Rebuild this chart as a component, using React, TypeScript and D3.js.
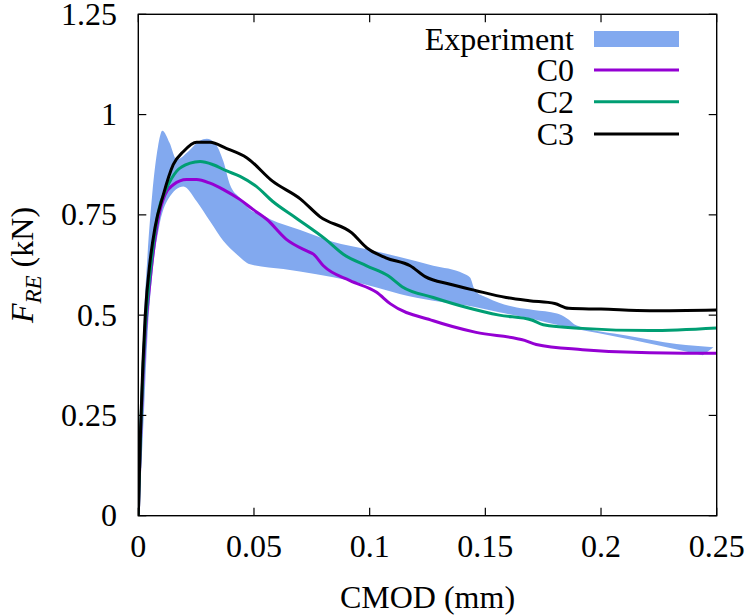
import React from "react";
import * as d3 from "d3";

const xTicks = [0, 0.05, 0.1, 0.15, 0.2, 0.25];
const xTickLabels = ["0", "0.05", "0.1", "0.15", "0.2", "0.25"];
const yTicks = [0, 0.25, 0.5, 0.75, 1, 1.25];
const yTickLabels = ["0", "0.25", "0.5", "0.75", "1", "1.25"];

const expUpperX = [0, 0.001, 0.0025, 0.004, 0.006, 0.0085, 0.0104, 0.0135, 0.0166, 0.0216, 0.0265, 0.0296, 0.033, 0.0368, 0.0396, 0.044, 0.0483, 0.0526, 0.057, 0.07, 0.084, 0.0987, 0.113, 0.1275, 0.1405, 0.1434, 0.1456, 0.1506, 0.1636, 0.1708, 0.181, 0.185, 0.1895, 0.211, 0.2327, 0.2486];
const expUpperY = [0, 0.25, 0.5, 0.65, 0.8, 0.92, 0.96, 0.93, 0.888, 0.908, 0.935, 0.94, 0.93, 0.883, 0.826, 0.792, 0.763, 0.752, 0.739, 0.712, 0.683, 0.664, 0.645, 0.623, 0.604, 0.594, 0.561, 0.544, 0.519, 0.513, 0.504, 0.493, 0.474, 0.449, 0.428, 0.42];
const expLowerX = [0, 0.002, 0.004, 0.006, 0.009, 0.013, 0.0195, 0.0252, 0.031, 0.0368, 0.0425, 0.0483, 0.0627, 0.077, 0.0915, 0.103, 0.113, 0.1275, 0.142, 0.156, 0.171, 0.1823, 0.204, 0.2255, 0.244];
const expLowerY = [0, 0.2, 0.45, 0.6, 0.72, 0.79, 0.821, 0.784, 0.734, 0.685, 0.652, 0.627, 0.615, 0.602, 0.586, 0.569, 0.553, 0.536, 0.524, 0.507, 0.49, 0.474, 0.449, 0.424, 0.4];

const c0X = [0, 0.001, 0.002, 0.003, 0.005, 0.0087, 0.0115, 0.0151, 0.0209, 0.0252, 0.031, 0.0368, 0.044, 0.0497, 0.0555, 0.064, 0.0728, 0.0757, 0.08, 0.0915, 0.103, 0.109, 0.1275, 0.146, 0.167, 0.172, 0.192, 0.221, 0.25];
const c0Y = [0, 0.2, 0.34, 0.45, 0.58, 0.743, 0.8, 0.825, 0.838, 0.838, 0.829, 0.813, 0.788, 0.763, 0.739, 0.689, 0.66, 0.652, 0.623, 0.586, 0.557, 0.528, 0.486, 0.457, 0.437, 0.427, 0.414, 0.406, 0.405];

const c2X = [0, 0.001, 0.002, 0.003, 0.005, 0.0087, 0.0123, 0.0166, 0.0224, 0.0267, 0.0324, 0.038, 0.044, 0.051, 0.058, 0.068, 0.081, 0.0886, 0.0987, 0.108, 0.114, 0.1275, 0.142, 0.156, 0.17, 0.175, 0.192, 0.221, 0.25];
const c2Y = [0, 0.21, 0.36, 0.47, 0.6, 0.759, 0.817, 0.859, 0.879, 0.883, 0.875, 0.86, 0.846, 0.821, 0.784, 0.743, 0.689, 0.652, 0.623, 0.598, 0.571, 0.544, 0.519, 0.5, 0.488, 0.476, 0.467, 0.4615, 0.468];

const c3X = [0, 0.001, 0.002, 0.003, 0.0051, 0.0072, 0.0108, 0.0151, 0.0195, 0.0252, 0.031, 0.038, 0.047, 0.058, 0.07, 0.0786, 0.0923, 0.0987, 0.107, 0.1175, 0.124, 0.1348, 0.146, 0.159, 0.169, 0.18, 0.186, 0.2, 0.221, 0.25];
const c3Y = [0, 0.22, 0.38, 0.5, 0.635, 0.718, 0.8, 0.875, 0.908, 0.931, 0.931, 0.916, 0.892, 0.834, 0.79, 0.745, 0.705, 0.668, 0.643, 0.623, 0.596, 0.577, 0.561, 0.544, 0.536, 0.529, 0.517, 0.515, 0.511, 0.513];

const seriesNames = ["Experiment", "C0", "C2", "C3"];
const seriesColors = ["#82a9ef", "#9400d3", "#009e73", "#000000"];

const W = 749;
const H = 616;
const left = 138.3;
const right = 716.7;
const top = 14.3;
const bottom = 515.7;
const FS = 32;
const FAM = '"Liberation Serif", "Tinos", "Nimbus Roman", serif';

export default function App() {
  const x = d3.scaleLinear().domain([0, 0.25]).range([left, right]);
  const y = d3.scaleLinear().domain([0, 1.25]).range([bottom, top]);

  const zip = (xs: number[], ys: number[]) => xs.map((v, i) => [v, ys[i]] as [number, number]);
  const line = d3
    .line<[number, number]>()
    .x((d) => x(d[0]))
    .y((d) => y(d[1]))
    .curve(d3.curveMonotoneX);

  const upper = zip(expUpperX, expUpperY);
  const lower = zip(expLowerX, expLowerY).reverse();
  const bandPath = (line(upper) || "") + "L" + (line(lower) || "").slice(1) + "Z";

  const lines = [
    { d: zip(c0X, c0Y), c: seriesColors[1] },
    { d: zip(c2X, c2Y), c: seriesColors[2] },
    { d: zip(c3X, c3Y), c: seriesColors[3] },
  ];

  const tickLen = 8;
  const legendRows = [39, 70, 101.7, 134];

  return (
    <div style={{ position: "absolute", left: 0, top: 0, width: W, height: H }}>
      <svg width={W} height={H} style={{ display: "block", fontFamily: FAM }}>
        <rect x={0} y={0} width={W} height={H} fill="#fff" />
        <defs>
          <clipPath id="plotclip">
            <rect x={left} y={top} width={right - left} height={bottom - top} />
          </clipPath>
        </defs>
        <g clipPath="url(#plotclip)">
          <path d={bandPath} fill={seriesColors[0]} stroke="none" />
          {lines.map((l, i) => (
            <path key={i} d={line(l.d) || ""} fill="none" stroke={l.c} strokeWidth={3} strokeLinejoin="round" />
          ))}
        </g>
        <rect x={left} y={top} width={right - left} height={bottom - top} fill="none" stroke="#000" strokeWidth={1.4} />
        {xTicks.map((t, i) => (
          <g key={"xt" + i}>
            <line x1={x(t)} x2={x(t)} y1={bottom} y2={bottom - tickLen} stroke="#000" strokeWidth={1.2} />
            <line x1={x(t)} x2={x(t)} y1={top} y2={top + tickLen} stroke="#000" strokeWidth={1.2} />
            <text x={x(t)} y={557} fontSize={FS} textAnchor="middle">
              {xTickLabels[i]}
            </text>
          </g>
        ))}
        {yTicks.map((t, i) => (
          <g key={"yt" + i}>
            <line x1={left} x2={left + tickLen} y1={y(t)} y2={y(t)} stroke="#000" strokeWidth={1.2} />
            <line x1={right} x2={right - tickLen} y1={y(t)} y2={y(t)} stroke="#000" strokeWidth={1.2} />
            <text x={117} y={y(t) + 10.5} fontSize={FS} textAnchor="end">
              {yTickLabels[i]}
            </text>
          </g>
        ))}
        <text x={(left + right) / 2} y={608} fontSize={FS} textAnchor="middle">
          CMOD (mm)
        </text>
        <text transform="translate(33,265) rotate(-90)" fontSize={FS} textAnchor="middle">
          <tspan fontStyle="italic">F</tspan>
          <tspan fontStyle="italic" fontSize={23} dy={8}>RE</tspan>
          <tspan dy={-8}> (kN)</tspan>
        </text>
        {seriesNames.map((n, i) => (
          <g key={"lg" + i}>
            <text x={574} y={legendRows[i] + 11} fontSize={FS} textAnchor="end">
              {n}
            </text>
            {i === 0 ? (
              <rect x={594} y={legendRows[i] - 8} width={85} height={16} fill={seriesColors[0]} />
            ) : (
              <line x1={594} x2={679} y1={legendRows[i]} y2={legendRows[i]} stroke={seriesColors[i]} strokeWidth={3} />
            )}
          </g>
        ))}
      </svg>
    </div>
  );
}
